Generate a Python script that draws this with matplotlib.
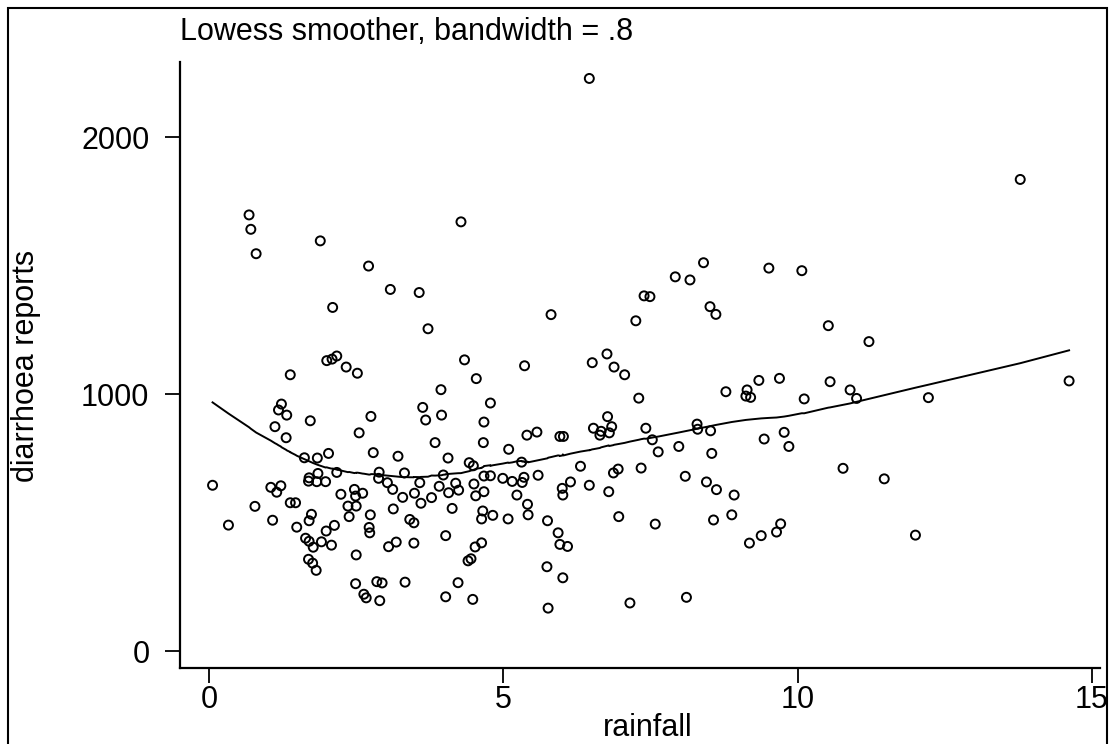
import numpy as np
import matplotlib
matplotlib.use("Agg")
import matplotlib.pyplot as plt
from matplotlib.patches import Rectangle

plt.rcParams["font.family"] = ["Liberation Sans", "DejaVu Sans"]

# monthly rainfall and diarrhoea report counts
rainfall = np.array([
    0.68, 0.71, 0.80, 1.89, 2.71, 3.08, 3.57, 2.10, 2.00, 2.09,
    2.17, 2.33, 2.52, 1.38, 1.23, 1.18, 1.32, 1.72, 1.12, 1.31,
    2.75, 2.55, 3.63, 2.79, 3.21, 1.62, 1.84, 2.03, 2.17, 2.89,
    2.88, 3.32, 1.70, 1.85, 1.69, 1.83, 1.98, 3.03, 3.12, 3.58,
    0.06, 1.05, 1.22, 1.15, 2.24, 2.47, 2.61, 2.49, 3.29, 3.49,
    0.78, 0.33, 1.08, 1.38, 1.47, 1.74, 1.70, 1.49, 2.13, 1.99,
    1.64, 1.70, 1.77, 1.91, 2.08, 1.69, 1.76, 1.82, 2.36, 2.50,
    2.38, 2.74, 3.13, 2.72, 2.73, 3.41, 3.48, 2.50, 3.05, 3.18,
    3.48, 2.49, 2.85, 2.94, 3.33, 2.63, 2.67, 2.90, 3.60, 6.46,
    4.28, 7.39, 7.49, 3.72, 5.81, 7.25, 4.34, 5.36, 6.51, 6.76,
    6.88, 7.06, 4.54, 3.94, 4.78, 7.30, 3.68, 3.95, 4.67, 6.77,
    3.84, 4.66, 5.40, 5.57, 5.96, 6.02, 6.53, 6.66, 6.84, 6.64,
    6.80, 7.42, 7.53, 7.63, 5.09, 4.06, 4.42, 4.49, 5.31, 6.31,
    6.87, 6.95, 7.34, 3.98, 4.67, 4.78, 4.99, 5.15, 5.35, 5.32,
    5.59, 3.91, 4.19, 4.07, 4.24, 4.50, 6.14, 6.46, 6.00, 6.01,
    6.79, 3.78, 4.53, 4.67, 5.23, 4.13, 4.65, 4.63, 4.82, 5.08,
    5.41, 5.42, 5.75, 6.96, 7.58, 4.02, 4.63, 4.52, 4.45, 4.40,
    5.93, 5.96, 6.09, 5.74, 6.01, 4.23, 4.02, 4.48, 5.76, 7.15,
    8.40, 7.92, 8.17, 9.51, 10.07, 8.51, 8.61, 10.52, 11.21, 8.78,
    9.14, 9.12, 9.20, 9.34, 9.69, 10.55, 10.89, 11.00, 10.11, 8.29,
    8.30, 8.52, 9.43, 9.77, 9.85, 7.98, 8.54, 10.77, 11.47, 8.09,
    8.45, 8.62, 8.92, 8.88, 8.57, 9.71, 9.64, 9.38, 9.18, 8.11,
    13.78, 14.61, 12.22, 12.00,
])
reports = np.array([
    1697, 1641, 1546, 1596, 1498, 1407, 1395, 1337, 1130, 1136,
    1148, 1105, 1081, 1075, 961, 938, 918, 896, 873, 830,
    913, 849, 948, 772, 758, 752, 751, 769, 695, 696,
    672, 693, 674, 691, 661, 659, 659, 655, 629, 655,
    645, 637, 643, 618, 610, 629, 614, 603, 598, 614,
    563, 490, 509, 577, 577, 532, 507, 482, 489, 467,
    439, 427, 404, 425, 412, 357, 342, 314, 564, 564,
    523, 530, 553, 481, 460, 512, 499, 374, 406, 424,
    420, 262, 270, 265, 268, 221, 207, 196, 575, 2228,
    1670, 1382, 1379, 1254, 1309, 1285, 1133, 1110, 1122, 1156,
    1105, 1075, 1060, 1017, 965, 984, 899, 918, 891, 912,
    811, 811, 840, 852, 835, 835, 867, 855, 873, 840,
    849, 867, 822, 775, 785, 751, 733, 721, 735, 719,
    693, 708, 712, 685, 681, 682, 672, 660, 676, 656,
    684, 641, 653, 616, 626, 650, 658, 645, 633, 607,
    620, 597, 604, 620, 607, 555, 545, 514, 528, 514,
    571, 530, 507, 523, 494, 449, 421, 405, 359, 351,
    460, 415, 407, 328, 285, 266, 211, 201, 167, 187,
    1511, 1456, 1444, 1490, 1480, 1340, 1310, 1266, 1204, 1009,
    1016, 992, 987, 1053, 1061, 1048, 1016, 983, 981, 883,
    863, 857, 825, 851, 796, 796, 769, 711, 670, 680,
    658, 628, 607, 530, 510, 495, 463, 449, 420, 209,
    1835, 1051, 986, 451,
])


def lowess(x, y, bw=0.8):
    # running-line smoother with tricube weights, no robustness steps
    order = np.argsort(x, kind="mergesort")
    xs, ys = x[order], y[order]
    n = len(xs)
    k = int((n * bw - 0.5) / 2)
    fit = np.empty(n)
    for i in range(n):
        lo, hi = max(0, i - k), min(n - 1, i + k)
        xx, yy = xs[lo:hi + 1], ys[lo:hi + 1]
        d = np.abs(xx - xs[i])
        w = (1 - (d / (1.0001 * d.max())) ** 3) ** 3
        xm = np.sum(w * xx) / w.sum()
        ym = np.sum(w * yy) / w.sum()
        sxx = np.sum(w * (xx - xm) ** 2)
        b = np.sum(w * (xx - xm) * (yy - ym)) / sxx if sxx > 0 else 0.0
        fit[i] = ym + b * (xs[i] - xm)
    return xs, fit


W, H = 1115, 744
FS = 22
fig = plt.figure(figsize=(W / 100, H / 100), dpi=100)
ax = fig.add_axes([180 / W, 1 - 668 / H, 920 / W, 606 / H])

ax.scatter(rainfall, reports, s=42, facecolors="none", edgecolors="black",
           linewidths=1.4, zorder=3)
sx, sy = lowess(rainfall, reports, 0.8)
ax.plot(sx, sy, color="black", lw=1.4, zorder=4)

ax.set_xlim(-0.493, 15.135)
ax.set_ylim(-66, 2292)
ax.set_xticks([0, 5, 10, 15])
ax.set_yticks([0, 1000, 2000])
ax.tick_params(direction="out", length=11, width=1.3, labelsize=FS,
               colors="black")
ax.tick_params(axis="x", pad=1)
ax.tick_params(axis="y", pad=11)
for side in ("top", "right"):
    ax.spines[side].set_visible(False)
for side in ("left", "bottom"):
    ax.spines[side].set_linewidth(1.6)

fig.text(648 / W, 1 - 736 / H, "rainfall", fontsize=FS,
         ha="center", va="baseline")
fig.text(26 / W, 1 - 366 / H, "diarrhoea reports", rotation=90,
         fontsize=FS, ha="center", va="center")
fig.text(180 / W, 1 - 40 / H, "Lowess smoother, bandwidth = .8",
         fontsize=FS, ha="left", va="baseline")

# outer border round the graph
fig.add_artist(Rectangle((8 / W, -0.1), 1099 / W, 1 - 8 / H + 0.1,
                         transform=fig.transFigure, fill=False,
                         lw=1.5, ec="black"))

fig.savefig("out.png", dpi=100, facecolor="white")
